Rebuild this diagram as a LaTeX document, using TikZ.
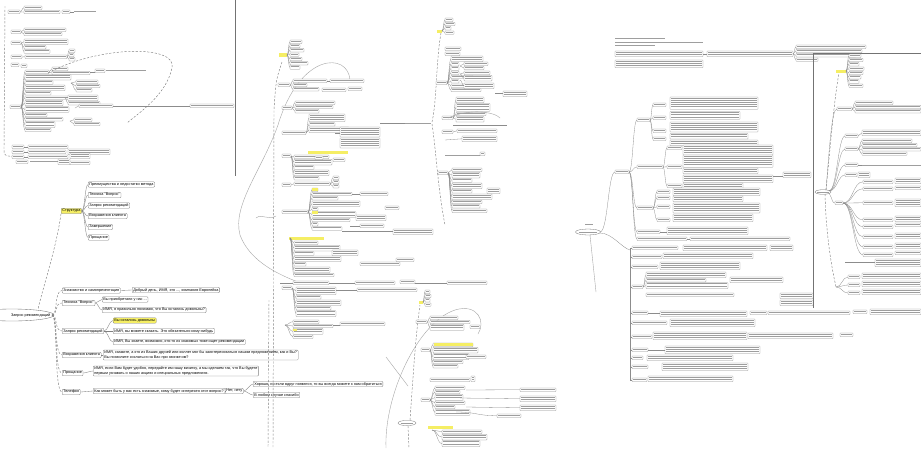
\documentclass[tikz,border=0pt]{standalone}
\usepackage{fontspec}
\setmainfont{Liberation Sans}
\usetikzlibrary{shapes.geometric}
\definecolor{ylwc}{RGB}{245,238,100}
\tikzset{
  bx/.style={draw=black!45, line width=0.25pt, rounded corners=0.5pt, fill=white},
  tx/.style={fill=black!38},
  ln/.style={draw=black!45, line width=0.3pt},
  dl/.style={draw=black!50, line width=0.45pt, dash pattern=on 2.2pt off 1.6pt},
  arcl/.style={draw=black!35, line width=0.4pt},
  frame/.style={draw=black!55, line width=0.6pt},
  ylw/.style={fill=ylwc},
  mm/.style={draw=black!50, line width=0.3pt, rounded corners=1pt, fill=white, inner xsep=1.2pt, inner ysep=1pt, font=\fontsize{3.8}{4.4}\selectfont, anchor=west, align=left},
  ylwn/.style={fill=ylwc},
  mmln/.style={draw=black!50, line width=0.35pt},
  rootn/.style={inner sep=0.5pt, font=\fontsize{3.8}{4.4}\selectfont, anchor=east},
}
% box with n bars of pseudo text: x, y(top), width, lines
\newcommand\tbx[4]{%
  \pgfmathsetmacro\tbh{#4*2.2+1.2}%
  \draw[bx] (#1,#2) rectangle ++(#3,\tbh);%
  \foreach \k in {1,...,#4}{\fill[tx] ({#1+0.7},{#2+0.6+(\k-1)*2.2}) rectangle ++({#3-1.4},1.0);}%
}
\newcommand\txl[3]{\fill[tx] (#1,#2) rectangle ++(#3,1.1);}
\newcommand\hl[3]{\draw[ln] (#1,#2) -- (#3,#2);}
% parent px py, children at x from y0 stacked: list w/n
\newcommand\colx[5]{%
  \xdef\mycy{#4}%
  \foreach \ww/\nn in {#5}{%
    \pgfmathsetmacro\myhh{\nn*2.2+1.2}%
    \pgfmathsetmacro\mymid{\mycy+\myhh/2}%
    \draw[ln] (#1,#2) .. controls ({(#1+#3)/2},#2) and ({(#1+#3)/2},\mymid) .. (#3,\mymid);%
    \tbx{#3}{\mycy}{\ww}{\nn}%
    \pgfmathsetmacro\myny{\mycy+\myhh+0.9}%
    \xdef\mycy{\myny}%
  }%
}
% parent px py, children at x with width w at explicit y list
\newcommand\ycolx[5]{%
  \foreach \yy in {#5}{%
    \draw[ln] (#1,#2) .. controls ({(#1+#3)/2},#2) and ({(#1+#3)/2},\yy+1.8) .. (#3,\yy+1.8);%
    \tbx{#3}{\yy}{#4}{1}%
  }%
}
\begin{document}
\begin{tikzpicture}[x=1pt,y=-1pt]
\useasboundingbox (0,0) rectangle (921,448);
\fill[white] (0,0) rectangle (921,448);

% ===================== top-left map =====================
\draw[frame] (235,0) -- (235,176);
\draw[dl] (5,6) -- (4,150) .. controls (4,156) .. (20,157);
\tbx{8}{10}{12}{1}
\colx{20}{12}{24}{6}{18/1,36/1}
\tbx{62}{10}{8}{1}\hl{70}{12}{74}\txl{74}{11}{22}
\tbx{11}{30}{10}{1}
\colx{21}{32}{24}{28}{42/1,38/1}
\tbx{11}{41}{10}{1}
\colx{21}{43}{24}{39}{44/2,22/1,26/1}
\tbx{11}{55}{11}{1}
\colx{22}{57}{25}{55}{42/1}
\colx{67}{57}{69}{49}{6/1,5/1,6/1}
\tbx{11}{63}{8}{1}\tbx{21}{64}{6}{1}
\tbx{10}{105}{11}{1}
\colx{21}{107}{25}{70}{24/1,46/2,28/1,40/2,26/1,50/1,38/2,44/2,22/1,38/1,30/2,26/1}
\colx{49}{72}{52}{67}{16/1,38/1}
\hl{90}{72}{95}\tbx{95}{69}{10}{1}\txl{106}{70}{40}
\colx{71}{83}{76}{80}{22/1,24/1,16/1}
\colx{65}{98}{68}{95}{30/2,32/1}
\colx{75}{108}{79}{104}{34/1}
\hl{113}{106}{190}\tbx{190}{104}{44}{1}
\colx{70}{121}{74}{118}{18/1,26/1}
\draw[dl] (48,73) .. controls (100,45) and (178,45) .. (172,68) .. controls (166,95) and (140,112) .. (127,123);
\tbx{12}{145}{12}{1}\hl{24}{147}{28}\tbx{28}{145}{40}{1}
\tbx{12}{150}{12}{1}\hl{24}{152}{28}\tbx{28}{150}{38}{1}\tbx{68}{149}{42}{2}
\tbx{12}{155}{12}{1}\hl{24}{157}{28}\tbx{28}{155}{40}{1}\tbx{70}{153}{20}{2}
\tbx{16}{160}{12}{1}\txl{30}{161}{28}\tbx{58}{159}{12}{2}\tbx{70}{161}{20}{1}

% ===================== bottom-left map (legible) =====================
\draw[draw=black!55, line width=0.35pt, fill=white] (12,315) ellipse (42 and 6);
\node[rootn] (root) at (51,315) {Запрос рекомендаций};
\node[mm,ylwn] (str) at (61,211) {Структура};
\node[mm] (s1) at (88,184.5) {Преимущества и недостатки метода};
\node[mm] (s2) at (88,195) {Техника "Вопрос"};
\node[mm] (s3) at (88,205.5) {Запрос рекомендаций};
\node[mm] (s4) at (88,216) {Возражения клиента};
\node[mm] (s5) at (88,227) {Завершение};
\node[mm] (s6) at (88,237.5) {Прощание};
\foreach \s in {s1,s2,s3,s4,s5,s6}{\draw[mmln] (str.east) .. controls +(3,0) and +(-3,0) .. (\s.west);}
\draw[dl] (str.south west) .. controls (56,250) and (42,290) .. (38,309.5);

\node[mm] (b1) at (62,290.5) {Знакомство и самопрезентация};
\node[mm] (b2) at (62,303) {Техника "Вопрос"};
\node[mm] (b3) at (62,331) {Запрос рекомендаций};
\node[mm] (b4) at (62,355) {Возражения клиента};
\node[mm] (b5) at (62,373) {Прощание};
\node[mm] (b6) at (62,392) {Телефон};
\foreach \b in {b1,b2,b3,b4,b5,b6}{\draw[dl] ([xshift=1pt]root.east) .. controls +(6,0) and +(-8,0) .. (\b.west);}

\node[mm] (c11) at (132,290) {Добрый день, ИМЯ, это ..., компания Европейка};
\node[mm] (c21) at (102,299.5) {Вы приобретали у нас ...};
\node[mm] (c22) at (102,310) {ИМЯ, я правильно понимаю, что Вы остались довольны?};
\node[mm,ylwn] (c31) at (113,320.5) {Вы остались довольны};
\node[mm] (c32) at (113,331) {ИМЯ, вы можете сказать. Это обязательно кому-нибудь};
\node[mm] (c33) at (113,342) {ИМЯ, Вы знаете, возможно, кто-то из знакомых тоже ищет рекомендации};
\node[mm] (c41) at (103,355) {ИМЯ, скажите, а кто из Ваших друзей или коллег мог бы заинтересоваться нашим предложением, как и Вы?\\Вы позволите сослаться на Вас при звонке им?};
\node[mm] (c51) at (93,371) {ИМЯ, если Вам будет удобно, передайте им нашу визитку, а мы сделаем так, что Вы будете\\первым узнавать о наших акциях и специальных предложениях.};
\node[mm] (c61) at (93,391) {Как может быть у вас есть знакомые, кому будет интересен этот вопрос?};
\node[mm] (c62) at (225,391) {Нет, нету};
\node[mm] (c63) at (253,384) {Хорошо, но если вдруг появятся, то вы всегда можете к нам обратиться};
\node[mm] (c64) at (253,395) {В любом случае спасибо};
\draw[mmln] (b1.east) -- (c11.west);
\foreach \c in {c21,c22}{\draw[mmln] (b2.east) .. controls +(3,0) and +(-3,0) .. (\c.west);}
\foreach \c in {c31,c32,c33}{\draw[mmln] (b3.east) .. controls +(4,0) and +(-4,0) .. (\c.west);}
\draw[mmln] (b4.east) .. controls +(3,0) and +(-3,0) .. (c41.west);
\draw[mmln] (b5.east) .. controls +(3,0) and +(-3,0) .. (c51.west);
\draw[mmln] (b6.east) -- (c61.west);
\draw[mmln] (c61.east) -- (c62.west);
\foreach \c in {c63,c64}{\draw[mmln] (c62.east) .. controls +(3,0) and +(-3,0) .. (\c.west);}

% ===================== middle map =====================
\draw[dl] (282,62) .. controls (276,80) .. (274,110) -- (273,448);
\draw[dl] (269,300) -- (268,448);
\draw[arcl] (350,80) .. controls (348,52) and (300,52) .. (278,125) .. controls (262,170) and (232,205) .. (240,235) .. controls (250,262) and (280,275) .. (298,282);
\draw[arcl] (256,218) .. controls (262,213) and (268,221) .. (276,216);
\fill[ylw] (279,53) rectangle (287,57);
\colx{287}{55}{290}{40}{12/1,10/1,14/1,9/1,12/1,18/1,10/1}
\tbx{278}{83}{12}{1}
\colx{290}{85}{293}{79}{34/1,14/1,26/1}
\hl{327}{81}{330}\tbx{330}{79}{34}{1}\tbx{322}{88}{24}{1}\tbx{348}{87}{14}{1}
\tbx{282}{106}{10}{1}
\colx{292}{108}{295}{101}{40/1,38/1,24/1}
\tbx{282}{131}{24}{1}
\colx{306}{133}{309}{114}{36/3,26/1,40/2}
\hl{335}{133}{340}\tbx{340}{127}{40}{4}\tbx{340}{138}{40}{4}
\fill[ylw] (308,150.5) rectangle (348,153.5);
\tbx{282}{154}{9}{1}
\colx{291}{156}{294}{155}{35/1,38/2,20/1,35/2,25/1}
\tbx{315}{156}{8}{1}\tbx{333}{158}{12}{1}
\tbx{282}{183}{9}{1}
\colx{291}{185}{294}{182}{36/1}
\colx{330}{184}{333}{176}{6/1,6/1,6/1}
\tbx{282}{210}{26}{1}
\colx{308}{212}{312}{188}{6/1,40/1,26/1,48/2,6/1,44/2,38/1,6/1,30/1}
\fill[ylw] (312,188) rectangle (318,191.4);
\fill[ylw] (312,211) rectangle (318,214.4);
\hl{352}{194}{360}\tbx{360}{192}{28}{1}\tbx{385}{206}{14}{1}\tbx{356}{215}{30}{2}\hl{350}{226}{360}\tbx{360}{224}{24}{1}
\hl{342}{231}{393}\tbx{393}{229}{40}{2}
\fill[ylw] (289,236.5) rectangle (324,239.5);
\colx{290}{238}{294}{241}{24/1,46/2,20/1,47/2,12/1,36/2,40/1}
\tbx{332}{250}{26}{2}\tbx{360}{262}{40}{1}\tbx{396}{258}{18}{1}
\hl{280}{283}{293}\tbx{293}{281}{36}{1}\hl{329}{283}{355}\tbx{355}{281}{40}{1}\tbx{400}{280}{15}{1}\hl{415}{283}{447}\tbx{447}{281}{40}{1}
\tbx{282}{286}{10}{1}
\colx{292}{288}{296}{287}{40/3,25/1,45/2,35/1,40/2}
\hl{336}{290}{357}\tbx{357}{288}{60}{1}
\colx{285}{325}{293}{320}{26/1,40/1,30/2,20/1}
\fill[ylw] (293,328.5) rectangle (297,331);
\hl{333}{325}{340}\tbx{340}{322}{45}{1}

% ===================== middle-right map =====================
\hl{380}{123}{405}\txl{405}{122.5}{26}
\draw[dl] (432,122) .. controls (437,100) and (436,60) .. (441,33);
\draw[dl] (432,124) .. controls (436,150) and (438,190) .. (445,225);
\fill[ylw] (437,30) rectangle (442,33);
\colx{442}{31}{445}{18}{8/1,10/1,6/1,9/1}
\tbx{445}{47}{16}{1}\tbx{445}{52}{15}{1}
\tbx{436}{81}{11}{1}
\colx{447}{83}{451}{56}{32/2,8/1,8/1,8/1,22/1,8/1,26/1,30/1}
\colx{460}{66}{464}{62}{24/1,20/1}
\colx{460}{74}{464}{71}{26/1,28/2}
\colx{460}{80}{464}{83}{30/2}
\hl{495}{93}{503}\tbx{503}{91}{24}{2}
\tbx{442}{116}{11}{1}
\colx{453}{118}{456}{97}{28/2,34/3,30/1,28/2}
\hl{453}{125}{507}
\tbx{442}{130}{11}{1}\colx{453}{132}{457}{129}{40/1}
\colx{445}{140}{462}{136}{35/2}
\txl{445}{154.5}{35}\tbx{480}{152}{5}{1}
\tbx{438}{171}{10}{1}
\colx{448}{173}{452}{168}{30/1,28/2,20/1,30/2,20/1,40/2,30/1,28/1,35/1}
\tbx{487}{188}{13}{2}
\draw[arcl] (448,118) .. controls (470,108) and (495,112) .. (500,118);

% ===================== bottom-middle map =====================
\draw[dl] (410,420) .. controls (413,380) and (415,340) .. (420,305);
\draw[dl] (408,426) -- (409,448);
\draw[arcl] (386,448) .. controls (384,395) and (418,322) .. (455,310) .. controls (478,303) and (486,322) .. (478,334);
\draw[arcl] (386,357) -- (408,386);
\draw[draw=black!55, line width=0.3pt, fill=white] (407,423) ellipse (9 and 2.6);
\txl{401}{422.5}{12}
\fill[ylw] (419,301) rectangle (423,304);
\colx{423}{302}{425}{290}{5/1,6/1,5/1,6/1}
\tbx{416}{320}{11}{1}
\colx{427}{322}{430}{316}{28/1,40/1,34/2}
\tbx{470}{325}{10}{1}
\tbx{421}{348}{9}{1}
\colx{430}{350}{433}{343}{40/1,45/2,36/2,30/1,25/1}
\fill[ylw] (433.5,343.3) rectangle (472.5,346.3);
\tbx{466}{355}{20}{1}
\tbx{430}{378}{40}{1}\tbx{471}{376}{4}{2}
\tbx{421}{398}{9}{1}
\colx{430}{400}{435}{386}{30/1,25/1,28/2,30/1,20/1,35/2}
\colx{466}{390}{520}{388}{36/1}
\colx{460}{398}{520}{396}{36/2}
\colx{466}{407}{520}{405}{36/2}
\colx{456}{412}{497}{414}{24/1}
\fill[ylw] (428,425.5) rectangle (453,428.5);
\colx{432}{430}{442}{430}{40/1,45/2,38/2}

% ===================== right big map =====================
\txl{615}{38}{50}\txl{615}{41.5}{88}\txl{615}{45}{40}
\tbx{615}{51}{88}{2}\hl{703}{54}{707}\tbx{707}{51}{86}{2}
\colx{793}{54}{796}{45}{70/1,66/1,60/1,22/1}
\tbx{615}{60}{88}{3}
\draw[arcl] (590,235) -- (596,292);
\draw[ln] (600,232) .. controls (608,232) and (608,172) .. (615,172);
\draw[ln] (600,233) .. controls (612,233) and (622,248) .. (630,250);
\draw[draw=black!55, line width=0.3pt, fill=white] (588,232) ellipse (12.5 and 3);
\txl{579}{231.5}{18}\txl{585}{224}{8}
\tbx{615}{170}{14}{1}
\foreach \yy in {120,167,208,232,239}{\draw[ln] (629,172) .. controls (633,172) and (633,\yy) .. (637,\yy);}
% S1
\tbx{637}{118}{13}{1}
\ycolx{650}{120}{653}{13}{103,116,129,137}
\tbx{670}{97}{88}{5}\tbx{670}{111.5}{70}{3}\tbx{670}{122}{88}{4}\tbx{670}{133.5}{78}{2}\tbx{670}{140}{88}{2}
% S2
\tbx{637}{165}{26}{1}
\ycolx{663}{167}{667}{15}{146,165,184}
\tbx{683}{145}{90}{4}\tbx{683}{155}{90}{5}\tbx{683}{168}{75}{2}\tbx{683}{175}{90}{3}\tbx{683}{183}{60}{2}
\hl{773}{176}{783}\tbx{783}{172}{28}{2}
% S3
\tbx{637}{206}{16}{1}
\ycolx{653}{208}{657}{13}{190,196,205,218}
\tbx{673}{188}{87}{3}\tbx{673}{196}{70}{2}\tbx{673}{203}{87}{4}\tbx{673}{214}{80}{3}
% S4 S5
\tbx{637}{230}{23}{1}\hl{660}{232}{667}\tbx{667}{227}{81}{3}
\tbx{637}{237}{50}{1}\hl{687}{239}{690}\tbx{690}{237}{100}{1}
% lower block
\draw[ln] (630,248) -- (630,381);
\foreach \yy in {248,257,267,287,313,323,337,350,358,367,380}{\hl{630}{\yy}{632}}
\tbx{632}{246}{46}{1}\tbx{683}{245}{84}{2}\tbx{770}{245}{23}{2}
\tbx{632}{255}{30}{1}\tbx{663}{253}{90}{2}
\tbx{632}{265}{26}{1}\tbx{660}{262}{80}{3}
\tbx{632}{285}{11}{1}\colx{643}{287}{646}{272}{80/2,60/1,82/2}\tbx{730}{277}{53}{2}
\tbx{646}{293}{88}{1}
\tbx{632}{311}{16}{1}\hl{648}{313}{660}\tbx{660}{311}{87}{2}\tbx{750}{311}{17}{1}\tbx{768}{311}{82}{1}\tbx{853}{310}{14}{1}\tbx{870}{309}{51}{2}
\tbx{632}{321}{35}{1}\tbx{670}{319}{85}{3}
\tbx{632}{335}{20}{1}\tbx{653}{332}{94}{3}\tbx{748}{333}{85}{2}\tbx{840}{333}{13}{1}
\tbx{632}{348}{16}{1}\hl{648}{350}{665}\tbx{665}{346}{95}{3}
\tbx{632}{356}{11}{1}\tbx{647}{355}{86}{2}
\tbx{632}{365}{16}{1}\tbx{662}{363}{86}{3}
\tbx{632}{378}{15}{1}\tbx{648}{376}{85}{2}
\tbx{780}{293}{33}{2}\tbx{780}{300}{33}{2}

% framed sub-map
\draw[frame] (921,53) -- (813,53) -- (813,308);
\draw[dl] (826,190) .. controls (830,150) and (834,100) .. (839,73);
\draw[dl] (825,194) .. controls (826,230) and (830,260) .. (836,287);
\draw[draw=black!55, line width=0.3pt, fill=white] (823,192) ellipse (8 and 2.3);
\txl{817}{191.5}{12}
\fill[ylw] (836,69.5) rectangle (846,73);
\colx{846}{71}{849}{54}{12/1,14/1,10/1,15/1,14/1,12/1,10/1,14/1}
\draw[ln] (826,190) .. controls (830,140) and (832,109) .. (837,109);
\tbx{837}{107}{15}{1}
\colx{852}{109}{855}{101}{38/1,66/1,66/1}
\foreach \yy in {136,149,165,175}{\draw[ln] (829,191) .. controls (837,191) and (838,\yy) .. (845,\yy);}
\tbx{845}{134}{13}{1}\colx{858}{136}{862}{130}{59/2}
\tbx{845}{147}{13}{1}\colx{858}{149}{862}{139}{50/1,55/1,59/1,45/1}
\tbx{845}{163}{13}{1}\hl{858}{165}{862}\txl{862}{164.5}{59}
\tbx{845}{173}{12}{1}\tbx{858}{172}{12}{2}
\draw[ln] (829,193) .. controls (833,200) and (832,203) .. (835,203);
\tbx{835}{201}{8}{1}
\ycolx{843}{203}{863}{30}{180,187,201,218,225,235,245,253}
\tbx{895}{178}{26}{2}\tbx{895}{186}{26}{1}\tbx{895}{199}{26}{3}\tbx{895}{216}{26}{2}\tbx{895}{223}{26}{1}\tbx{895}{233}{26}{2}\tbx{895}{243}{26}{2}\tbx{895}{251}{26}{1}
\hl{845}{262}{875}\tbx{875}{259}{46}{3}
\foreach \yy in {277,285,293}{\draw[ln] (836,287) .. controls (842,287) and (842,\yy) .. (848,\yy);}
\tbx{848}{275}{12}{1}\tbx{848}{283}{12}{1}\tbx{848}{291}{12}{1}
\tbx{862}{273}{59}{2}\tbx{862}{281}{59}{2}\tbx{862}{289}{59}{2}
\end{tikzpicture}
\end{document}
